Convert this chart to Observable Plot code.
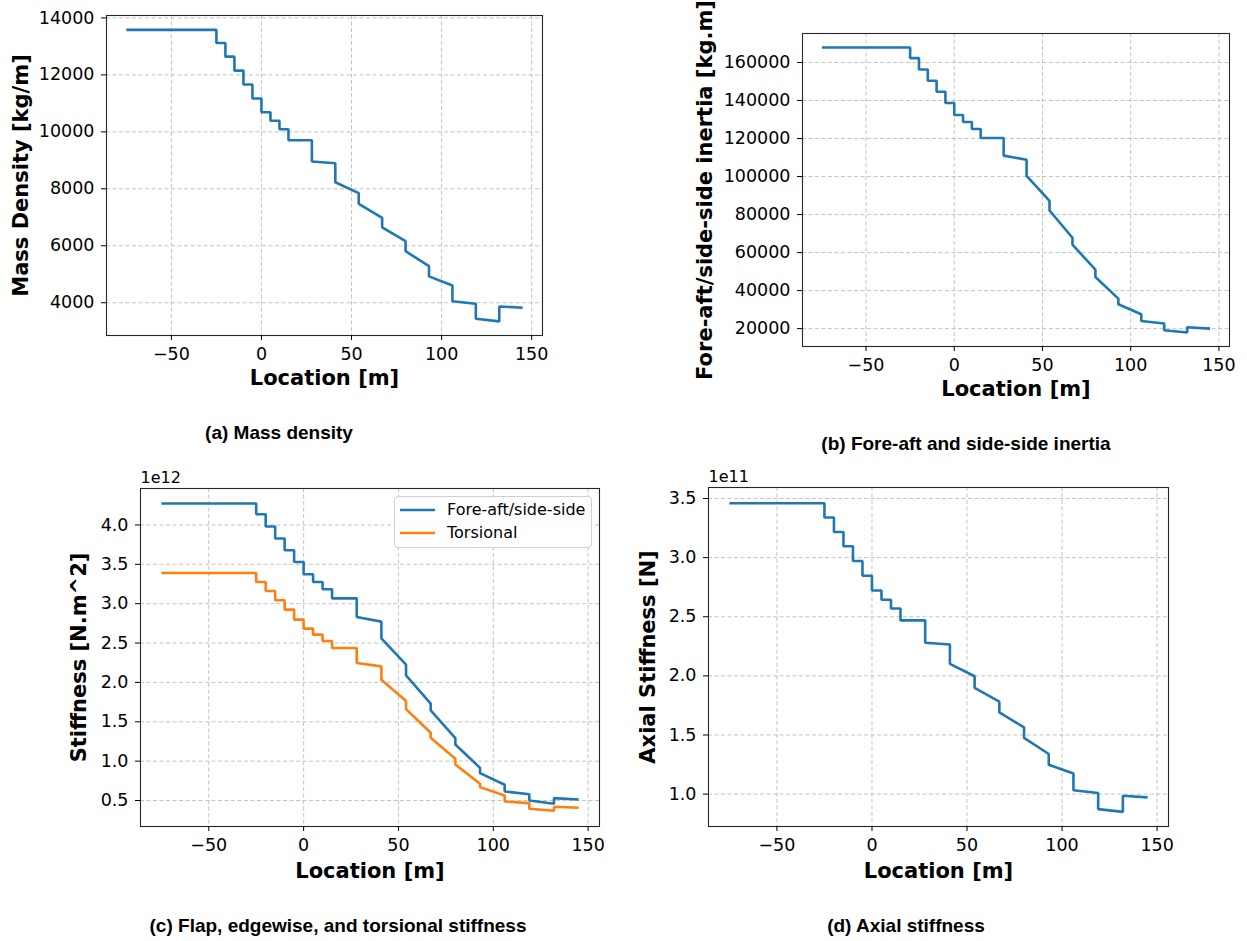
<!DOCTYPE html>
<html>
<head>
<meta charset="utf-8">
<script src="https://cdn.jsdelivr.net/npm/d3@7"></script>
<script src="https://cdn.jsdelivr.net/npm/@observablehq/plot@0.6"></script>
<style>
  html, body { margin: 0; padding: 0; background: #fff; }
  body { width: 1247px; height: 941px; position: relative; overflow: hidden; font-family: "DejaVu Sans", sans-serif; }
  .panel { position: absolute; }
  .caption { position: absolute; font-family: "Liberation Sans", Arial, sans-serif; font-weight: bold; font-size: 19px; line-height: 20px; white-space: nowrap; transform: translateX(-50%); color: #000; }
  .legend { position: absolute; left: 394px; top: 496px; width: 196px; height: 50px; border: 1px solid #d0d0d0; border-radius: 4px; background: rgba(255,255,255,0.85); font-family: "DejaVu Sans"; font-size: 16px; }
  .legend .row { position: absolute; left: 5px; height: 20px; display: flex; align-items: center; }
  .legend .row span { margin-left: 12px; line-height: 20px; }
</style>
</head>
<body>
<script>
// Tower node locations [m] (segment boundaries)
const locations = [-75, -25, -20, -15, -10, -5, 0, 5, 10, 15, 28, 41, 54, 67, 80, 93, 106, 119, 132, 145];

// (a) Mass density [kg/m] — value at start and end of each segment
const massStart = [13580, 13120, 12640, 12150, 11660, 11170, 10690, 10390, 10090, 9705, 8960, 8230, 7475, 6650, 5810, 4925, 4055, 3440, 3870];
const massEnd   = [13580, 13120, 12640, 12150, 11660, 11170, 10690, 10390, 10090, 9705, 8900, 7850, 6980, 6160, 5285, 4605, 3965, 3345, 3825];

// (b) Fore-aft/side-side inertia [kg.m]
const inertiaStart = [167900, 162300, 156300, 150400, 144600, 138700, 132400, 128700, 125000, 120300, 111000, 100400, 82150, 64150, 47150, 32800, 24050, 19150, 20750];
const inertiaEnd   = [167900, 162300, 156300, 150400, 144600, 138700, 132400, 128700, 125000, 120300, 108800, 87200, 67800, 51000, 35800, 27550, 22700, 17950, 20000];

// (c) Stiffness [N.m^2], in units of 1e12
const foreAftStart = [4.272, 4.136, 3.980, 3.827, 3.678, 3.530, 3.373, 3.276, 3.183, 3.068, 2.830, 2.560, 2.090, 1.645, 1.212, 0.847, 0.615, 0.500, 0.530];
const foreAftEnd   = [4.272, 4.136, 3.980, 3.827, 3.678, 3.530, 3.373, 3.276, 3.183, 3.068, 2.772, 2.225, 1.730, 1.293, 0.915, 0.700, 0.580, 0.458, 0.513];
const torsionalStart = [3.390, 3.276, 3.161, 3.043, 2.925, 2.797, 2.683, 2.607, 2.526, 2.437, 2.246, 2.035, 1.661, 1.298, 0.958, 0.670, 0.488, 0.396, 0.420];
const torsionalEnd   = [3.390, 3.276, 3.161, 3.043, 2.925, 2.797, 2.683, 2.607, 2.526, 2.437, 2.204, 1.763, 1.361, 1.031, 0.713, 0.564, 0.467, 0.371, 0.408];

// (d) Axial stiffness [N], in units of 1e11
const axialStart = [3.460, 3.339, 3.217, 3.096, 2.971, 2.847, 2.722, 2.644, 2.570, 2.469, 2.280, 2.102, 1.898, 1.691, 1.475, 1.248, 1.032, 0.873, 0.986];
const axialEnd   = [3.460, 3.339, 3.217, 3.096, 2.971, 2.847, 2.722, 2.644, 2.570, 2.469, 2.265, 1.997, 1.782, 1.564, 1.339, 1.175, 1.010, 0.850, 0.972];

// Tick values
const xTicks = [-50, 0, 50, 100, 150];
const massTicks = [4000, 6000, 8000, 10000, 12000, 14000];
const inertiaTicks = [20000, 40000, 60000, 80000, 100000, 120000, 140000, 160000];
const stiffTicks = [0.5, 1.0, 1.5, 2.0, 2.5, 3.0, 3.5, 4.0];
const axialTicks = [1.0, 1.5, 2.0, 2.5, 3.0, 3.5];

const captions = [
  "(a) Mass density",
  "(b) Fore-aft and side-side inertia",
  "(c) Flap, edgewise, and torsional stiffness",
  "(d) Axial stiffness"
];

const BLUE = "#1f77b4", ORANGE = "#ff7f0e";

function segments(starts, ends, series) {
  const pts = [];
  for (let i = 0; i < starts.length; i++) {
    pts.push({x: locations[i], y: starts[i], s: series});
    pts.push({x: locations[i + 1], y: ends[i], s: series});
  }
  return pts;
}

const fmtX = d => d < 0 ? "\u2212" + (-d) : String(d);

function panel(opts) {
  const {left, top, width, height, margins, yDomain, yTicks, yFmt, lines, xLabel, yLabel, yLabelDx, xLabelDy, exponent} = opts;
  const marks = [
    Plot.gridX(xTicks, {stroke: "#b0b0b0", strokeOpacity: 0.75, strokeDasharray: "4 2.5", strokeWidth: 1}),
    Plot.gridY(yTicks, {stroke: "#b0b0b0", strokeOpacity: 0.75, strokeDasharray: "4 2.5", strokeWidth: 1}),
    ...lines.map(l => Plot.line(l.data, {x: "x", y: "y", stroke: l.color, strokeWidth: 2.6, strokeLinejoin: "miter", strokeLinecap: "butt"})),
    Plot.frame({stroke: "#262626", strokeWidth: 1.1}),
    Plot.axisX(xTicks, {tickSize: 5, tickPadding: 7, tickFormat: fmtX, label: null, fontSize: 17.5}),
    Plot.axisY(yTicks, {tickSize: 5, tickPadding: 7, tickFormat: yFmt, label: null, fontSize: 17.5}),
    Plot.text([xLabel], {frameAnchor: "bottom", dy: xLabelDy, text: d => d, textAnchor: "middle", lineAnchor: "middle", fontSize: 21, fontWeight: "bold", fill: "#000"}),
    Plot.text([yLabel], {frameAnchor: "left", dx: yLabelDx, rotate: -90, text: d => d, textAnchor: "middle", lineAnchor: "middle", fontSize: 21, fontWeight: "bold", fill: "#000"})
  ];
  if (exponent) {
    marks.push(Plot.text([exponent], {frameAnchor: "top-left", textAnchor: "start", lineAnchor: "middle", dy: -11, text: d => d, fontSize: 16, fill: "#000"}));
  }
  const chart = Plot.plot({
    width, height,
    marginLeft: margins[0], marginTop: margins[1], marginRight: margins[2], marginBottom: margins[3],
    x: {domain: [-86, 156]},
    y: {domain: yDomain},
    style: {fontFamily: "DejaVu Sans", fontSize: "17.5px", color: "#000", background: "transparent", overflow: "visible"},
    marks
  });
  const div = document.createElement("div");
  div.className = "panel";
  div.style.left = left + "px";
  div.style.top = top + "px";
  div.appendChild(chart);
  document.body.appendChild(div);
}

// (a)
panel({
  left: 0, top: 0, width: 600, height: 400, margins: [106, 15, 58, 65],
  yDomain: [2850, 14085], yTicks: massTicks, yFmt: d => String(d),
  lines: [{data: segments(massStart, massEnd, "m"), color: BLUE}],
  xLabel: "Location [m]", yLabel: "Mass Density [kg/m]", yLabelDx: -85, xLabelDy: 43
});
// (b)
panel({
  left: 620, top: 0, width: 627, height: 410, margins: [182, 33, 18, 64],
  yDomain: [10600, 175250], yTicks: inertiaTicks, yFmt: d => String(d),
  lines: [{data: segments(inertiaStart, inertiaEnd, "i"), color: BLUE}],
  xLabel: "Location [m]", yLabel: "Fore-aft/side-side inertia [kg.m]", yLabelDx: -97, xLabelDy: 43
});
// (c)
panel({
  left: 0, top: 460, width: 620, height: 430, margins: [140, 28, 21, 64],
  yDomain: [0.17, 4.463], yTicks: stiffTicks, yFmt: d => d.toFixed(1),
  lines: [
    {data: segments(foreAftStart, foreAftEnd, "Fore-aft/side-side"), color: BLUE},
    {data: segments(torsionalStart, torsionalEnd, "Torsional"), color: ORANGE}
  ],
  xLabel: "Location [m]", yLabel: "Stiffness [N.m^2]", yLabelDx: -61, xLabelDy: 45, exponent: "1e12"
});
// (d)
panel({
  left: 620, top: 460, width: 627, height: 430, margins: [88, 27, 79, 64],
  yDomain: [0.726, 3.593], yTicks: axialTicks, yFmt: d => d.toFixed(1),
  lines: [{data: segments(axialStart, axialEnd, "a"), color: BLUE}],
  xLabel: "Location [m]", yLabel: "Axial Stiffness [N]", yLabelDx: -60, xLabelDy: 45, exponent: "1e11"
});

// legend for (c)
const legend = document.createElement("div");
legend.className = "legend";
[["Fore-aft/side-side", BLUE, 3], ["Torsional", ORANGE, 26]].forEach(([name, color, y]) => {
  const row = document.createElement("div");
  row.className = "row";
  row.style.top = y + "px";
  row.innerHTML = `<svg width="35" height="20"><line x1="0" x2="35" y1="10" y2="10" stroke="${color}" stroke-width="2.6"/></svg><span>${name}</span>`;
  legend.appendChild(row);
});
document.body.appendChild(legend);

// captions
[[captions[0], 279, 423], [captions[1], 966, 434], [captions[2], 338, 916], [captions[3], 906, 916]].forEach(([t, cx, ty]) => {
  const c = document.createElement("div");
  c.className = "caption";
  c.style.left = cx + "px";
  c.style.top = ty + "px";
  c.textContent = t;
  document.body.appendChild(c);
});
</script>
</body>
</html>
